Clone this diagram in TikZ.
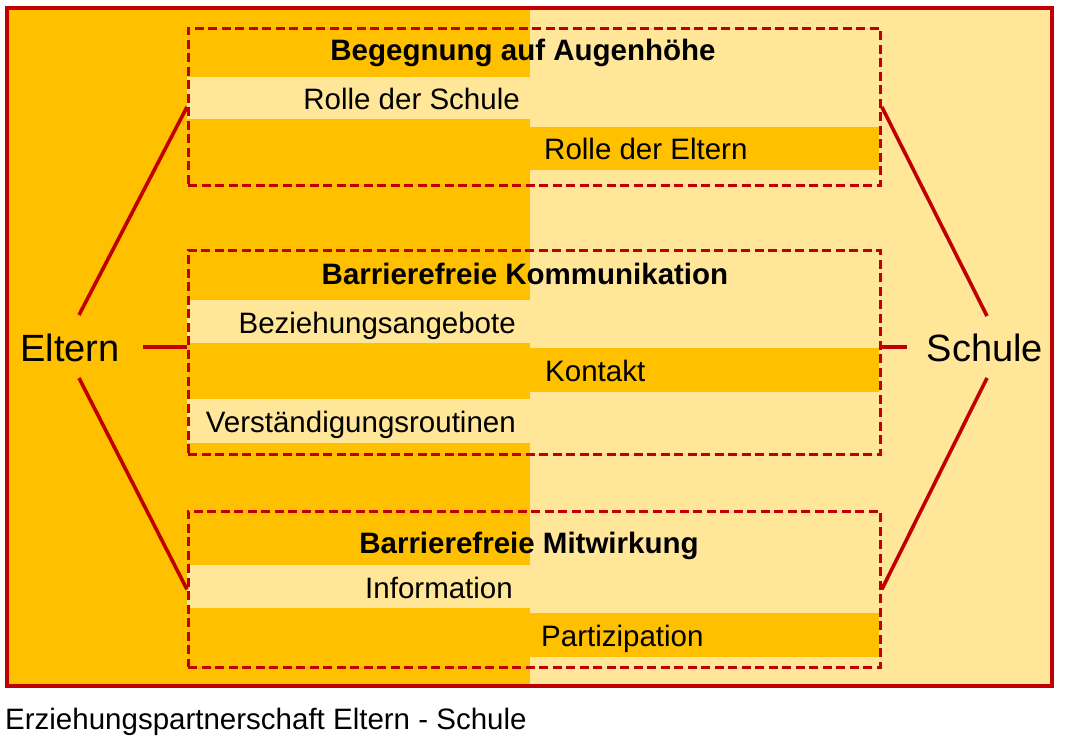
\documentclass[tikz,border=0pt]{standalone}
\usepackage{fontspec}
\setmainfont{Liberation Sans}
\definecolor{orng}{HTML}{FFC000}
\definecolor{lite}{HTML}{FFE699}
\definecolor{dred}{HTML}{C00000}
\begin{document}
\begin{tikzpicture}[x=1pt,y=-1pt,
  txt/.style={font=\fontsize{29.5}{34}\selectfont, inner sep=0pt},
  ttl/.style={font=\fontsize{29.5}{34}\selectfont\bfseries, inner sep=0pt},
  big/.style={font=\fontsize{38}{44}\selectfont, inner sep=0pt},
  conn/.style={draw=dred, line width=3.6pt},
  dbox/.style={draw=dred, line width=2.8pt, dash pattern=on 9pt off 4.5pt, inner sep=0pt, anchor=north west, minimum width=692pt},
  lstripe/.style={fill=lite},
  ostripe/.style={fill=orng}]
\useasboundingbox (0,0) rectangle (1065,741);
\fill[white] (0,0) rectangle (1065,741);
% background halves
\fill[orng] (7,8) rectangle (530,686);
\fill[lite] (530,8) rectangle (1052,686);
% stripes box 1
\fill[lstripe] (187,77) rectangle (530,119);
\fill[ostripe] (530,127) rectangle (879,170);
% stripes box 2
\fill[lstripe] (187,300) rectangle (530,343);
\fill[ostripe] (530,348) rectangle (879,392);
\fill[lstripe] (187,399) rectangle (530,443);
% stripes box 3
\fill[lstripe] (187,565) rectangle (530,608);
\fill[ostripe] (530,613) rectangle (879,657);
% dashed boxes
\node[dbox, minimum height=157pt] (b1) at (187,27) {};
\node[dbox, minimum height=204pt] (b2) at (187,249) {};
\node[dbox, minimum height=156pt] (b3) at (187,510) {};
% frame
\draw[dred, line width=3.4pt] (7,8) rectangle (1052,686);
% labels
\node[big, anchor=base] (el) at (70,361) {Eltern};
\node[big, anchor=base] (sc) at (985,361) {Schule};
% connectors
\coordinate (e1) at (79,315);
\coordinate (e2) at (143,347);
\coordinate (e3) at (79,378);
\coordinate (s1) at (987,316);
\coordinate (s2) at (907,347);
\coordinate (s3) at (987,378);
\draw[conn] (e1) -- (b1.west);
\draw[conn] (e2) -- (e2 -| b2.west);
\draw[conn] (e3) -- (b3.west);
\draw[conn] (b1.east) -- (s1);
\draw[conn] (s2 -| b2.east) -- (s2);
\draw[conn] (b3.east) -- (s3);
% box 1 texts
\node[ttl, anchor=base] (t1) at (523,61) {Begegnung auf Augenhöhe};
\node[txt, anchor=base east] (t1a) at (520,110) {Rolle der Schule};
\node[txt, anchor=base west] (t1b) at (544,160) {Rolle der Eltern};
% box 2 texts
\node[ttl, anchor=base] (t2) at (525,284) {Barrierefreie Kommunikation};
\node[txt, anchor=base east] (t2a) at (516,333) {Beziehungsangebote};
\node[txt, anchor=base west] (t2b) at (545,381) {Kontakt};
\node[txt, anchor=base east] (t2c) at (516,432) {Verständigungsroutinen};
% box 3 texts
\node[ttl, anchor=base] (t3) at (529,553) {Barrierefreie Mitwirkung};
\node[txt, anchor=base east] (t3a) at (513,598) {Information};
\node[txt, anchor=base west] (t3b) at (541,646) {Partizipation};
% caption
\node[txt, anchor=base west] (cap) at (5,729) {Erziehungspartnerschaft Eltern - Schule};
\end{tikzpicture}
\end{document}
